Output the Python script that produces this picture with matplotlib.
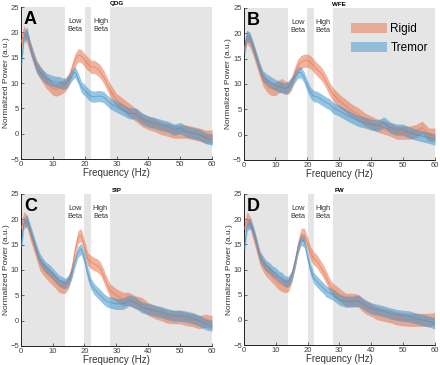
import numpy as np
import matplotlib
matplotlib.use('Agg')
import matplotlib.pyplot as plt
from matplotlib.patches import Patch

plt.rcParams['font.family'] = ['Liberation Sans', 'DejaVu Sans']

# frequency grid (Hz): 1 Hz steps up to 28, then 2 Hz steps
freq = list(range(0, 29)) + list(range(30, 61, 2))

# mean normalized power per task
qdg_rigid = [17.7, 20.0, 19.0, 17.0, 15.0, 13.2, 12.2, 11.2, 10.2, 9.6, 8.9, 8.7, 8.9, 9.2, 9.6,
             10.6, 12.5, 14.5, 15.5, 15.3, 14.5, 13.8, 13.2, 13.2, 12.8, 12.2, 11.2, 9.9, 8.6,
             6.6, 5.7, 4.7, 3.7, 2.7, 2.1, 1.7, 1.1, 0.8, 0.4, 0.4, 0.4, 0.1, -0.2, -0.6, -0.6]
qdg_tremor = [12.5, 19.0, 20.0, 17.0, 15.0, 13.2, 12.2, 11.5, 10.9, 10.6, 10.4, 10.2, 10.2, 9.9, 9.9,
              10.6, 11.5, 12.2, 10.9, 9.2, 8.6, 7.9, 7.4, 7.3, 7.4, 7.4, 7.2, 6.6, 6.0,
              5.3, 4.7, 4.0, 4.0, 3.0, 2.4, 2.1, 1.7, 1.4, 0.8, 1.1, 0.4, 0.1, -0.2, -0.9, -1.2]

wfe_rigid = [16.3, 19.2, 18.6, 16.9, 14.9, 12.9, 11.0, 10.0, 9.3, 9.0, 9.0, 9.5, 9.8, 9.3, 9.3,
             10.0, 12.0, 13.6, 14.3, 14.6, 14.6, 14.3, 13.6, 12.9, 12.3, 11.5, 10.3, 9.0, 8.0,
             6.7, 5.7, 4.7, 4.0, 3.0, 2.4, 1.8, 1.4, 1.0, 0.4, 0.4, 0.4, 0.7, 1.4, 0.0, 0.0]
wfe_tremor = [15.3, 19.5, 19.2, 17.3, 15.3, 13.3, 11.6, 11.0, 10.6, 10.2, 9.8, 9.5, 9.3, 9.1, 9.3,
              10.3, 11.3, 12.2, 12.3, 11.3, 9.6, 8.3, 7.6, 7.5, 7.1, 6.7, 6.3, 6.0, 5.3,
              4.7, 4.0, 3.3, 2.7, 2.4, 2.0, 1.8, 2.4, 1.4, 1.0, 1.0, 0.4, 0.0, -0.3, -0.6, -1.0]

sip_rigid = [17.9, 20.2, 19.5, 17.2, 15.2, 13.2, 11.2, 10.3, 9.6, 8.9, 8.3, 7.6, 6.9, 6.7, 6.7,
             7.6, 9.9, 13.6, 16.5, 16.9, 14.5, 12.2, 11.6, 11.2, 10.9, 10.3, 8.9, 7.3, 6.0,
             5.0, 4.3, 4.3, 3.6, 3.3, 2.3, 1.7, 1.3, 0.8, 0.7, 0.7, 0.3, 0.1, -0.3, 0.0, -0.3]
sip_tremor = [13.9, 19.2, 19.8, 17.9, 15.9, 13.9, 12.2, 11.2, 10.4, 10.0, 9.3, 8.6, 7.9, 7.6, 7.3,
              7.9, 9.3, 11.6, 13.6, 14.2, 12.2, 9.3, 7.3, 6.3, 5.6, 5.0, 4.3, 3.8, 3.6,
              3.3, 3.3, 4.0, 3.6, 2.6, 2.3, 2.0, 1.7, 1.3, 1.0, 1.0, 0.8, 0.5, 0.0, -0.7, -1.0]

fw_rigid = [17.9, 20.2, 19.2, 16.9, 14.5, 12.2, 10.9, 9.9, 9.3, 8.6, 7.9, 7.3, 6.9, 6.7, 6.9,
            8.6, 11.2, 14.5, 16.9, 16.9, 15.2, 13.2, 12.2, 11.6, 10.6, 9.6, 8.3, 6.9, 6.0,
            5.0, 4.0, 4.0, 3.8, 2.6, 2.0, 1.3, 1.0, 0.7, 0.3, 0.1, 0.0, 0.0, 0.0, 0.0, 0.1]
fw_tremor = [13.9, 18.8, 19.2, 17.5, 15.2, 12.6, 11.6, 10.7, 10.3, 9.6, 9.3, 8.6, 8.3, 7.6, 7.6,
             8.6, 11.2, 14.2, 15.9, 15.5, 12.6, 9.9, 8.3, 7.6, 6.9, 6.3, 5.6, 5.3, 5.0,
             4.0, 3.6, 3.6, 3.8, 3.0, 2.3, 2.0, 1.7, 1.3, 1.0, 0.8, 0.7, 0.3, 0.0, -0.3, -0.7]

# half-width of the shaded error band
rigid_sem = 1.3
tremor_sem = 1.1

panels = [('A', 'QDG', qdg_rigid, qdg_tremor),
          ('B', 'WFE', wfe_rigid, wfe_tremor),
          ('C', 'SIP', sip_rigid, sip_tremor),
          ('D', 'FW', fw_rigid, fw_tremor)]

# shaded frequency ranges (outside the beta bands)
gray_spans = [(0, 14), (20, 22), (28, 60)]

RIGID = (0.91, 0.45, 0.29)
TREMOR = (0.25, 0.58, 0.80)
TICK_COL = '#404040'

W, H = 440, 365
# axes rectangles in pixels: left, top, right, bottom
boxes = [(20.7, 7, 212.3, 159),
         (243.5, 8, 435, 160),
         (20.7, 194, 212, 346),
         (244, 194, 434.5, 345)]

fig = plt.figure(figsize=(W / 100, H / 100), dpi=100)

for (letter, task, rigid, tremor), (l, t, r, b) in zip(panels, boxes):
    ax = fig.add_axes([l / W, 1 - b / H, (r - l) / W, (b - t) / H])
    f = np.array(freq)
    rg = np.array(rigid)
    tr = np.array(tremor)

    for x0, x1 in gray_spans:
        ax.axvspan(x0, x1, color='#e5e5e5', lw=0, zorder=0)

    ax.fill_between(f, rg - rigid_sem, rg + rigid_sem, color=RIGID, alpha=0.55, lw=0, zorder=2)
    ax.plot(f, rg, color=RIGID, lw=0.5, alpha=0.8, zorder=3)
    ax.fill_between(f, tr - tremor_sem, tr + tremor_sem, color=TREMOR, alpha=0.55, lw=0, zorder=2)
    ax.plot(f, tr, color=TREMOR, lw=0.5, alpha=0.8, zorder=3)

    ax.set_xlim(0, 60)
    ax.set_ylim(-5, 25)
    ax.set_xticks([0, 10, 20, 30, 40, 50, 60])
    ax.set_yticks([-5, 0, 5, 10, 15, 20, 25])
    ax.tick_params(direction='in', length=2, width=0.5, labelsize=5.5,
                   labelcolor=TICK_COL, color='#333333', pad=1.2)
    for s in ['top', 'right']:
        ax.spines[s].set_visible(False)
    for s in ['left', 'bottom']:
        ax.spines[s].set_linewidth(0.7)
        ax.spines[s].set_color('#222222')

    ax.set_xlabel('Frequency (Hz)', fontsize=7, color='#333333', labelpad=0.5)
    ax.set_ylabel('Normalized Power (a.u.)', fontsize=6, color='#333333', labelpad=0.5)
    ax.set_title(task, fontsize=4.5, fontweight='bold', pad=1.5)

    ax.text(3, 22.6, letter, fontsize=13, fontweight='bold', ha='center', va='center')
    ax.text(17, 21.3, 'Low\nBeta', fontsize=5.3, ha='center', va='center',
            color='#333333', linespacing=1.1)
    ax.text(25, 21.3, 'High\nBeta', fontsize=5.3, ha='center', va='center',
            color='#333333', linespacing=1.1)

    if letter == 'B':
        handles = [Patch(facecolor=RIGID, alpha=0.5, lw=0, label='Rigid'),
                   Patch(facecolor=TREMOR, alpha=0.5, lw=0, label='Tremor')]
        ax.legend(handles=handles, loc='upper right', bbox_to_anchor=(1.0, 0.95),
                  frameon=False, fontsize=8.5, handlelength=3.0, handleheight=0.9,
                  handletextpad=0.3, labelspacing=0.6, borderaxespad=0.2)

fig.savefig('out.png', dpi=100)
